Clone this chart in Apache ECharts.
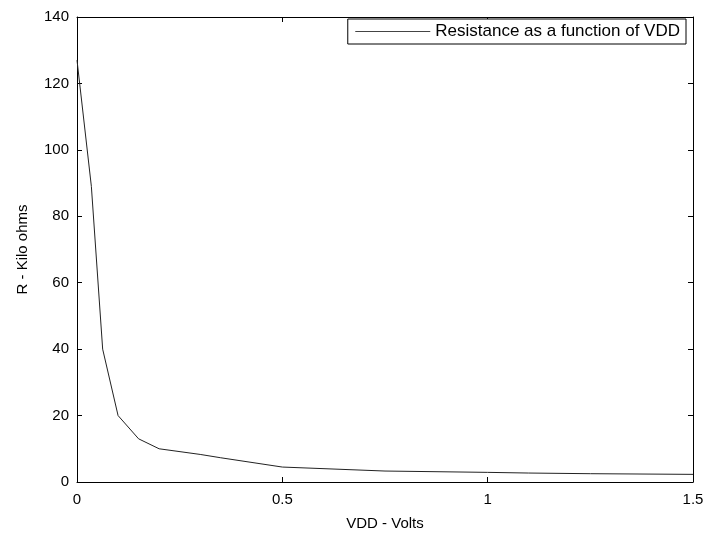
<!DOCTYPE html>
<html>
<head>
<meta charset="utf-8">
<script src="https://cdn.jsdelivr.net/npm/echarts@6/dist/echarts.min.js"></script>
<style>
html, body { margin: 0; padding: 0; background: #fff; }
#main { width: 710px; height: 539px; }
</style>
</head>
<body>
<div id="main"></div>
<script>
// 数据
const vdd = [0, 0.035, 0.0625, 0.1, 0.15, 0.2, 0.3, 0.35, 0.5, 0.75, 1.0, 1.1, 1.25, 1.5];
const resistance = [127, 89, 40, 20, 13, 10, 8.3, 7.3, 4.5, 3.3, 2.9, 2.7, 2.5, 2.3];
const seriesName = 'Resistance as a function of VDD';

const myChart = echarts.init(document.getElementById('main'));

const font = 'Liberation Sans, Arial, sans-serif';
const axisCommon = {
	axisLine: { show: true, onZero: false, lineStyle: { color: '#000', width: 1 } },
	axisTick: { show: true, inside: true, length: 5, lineStyle: { color: '#000' } },
	splitLine: { show: false }
};

option = {
	backgroundColor: '#fff',
	animation: false,
	grid: { left: 77, right: 17, top: 17, bottom: 57 },
	legend: {
		data: [seriesName],
		right: 24,
		top: 19,
		orient: 'horizontal',
		backgroundColor: '#fff',
		borderColor: '#000',
		borderWidth: 1,
		padding: [4, 6, 4, 7],
		itemWidth: 75,
		itemHeight: 14,
		itemGap: 8,
		itemStyle: { opacity: 0 }, // 只显示线，不显示圆点
		lineStyle: { color: '#444', width: 1 },
		textStyle: { color: '#000', fontSize: 17, fontFamily: font }
	},
	xAxis: [{
		type: 'value',
		min: 0,
		max: 1.5,
		interval: 0.5,
		name: 'VDD - Volts',
		nameLocation: 'middle',
		nameGap: 34,
		nameTextStyle: { color: '#000', fontSize: 15, fontFamily: font },
		axisLabel: { color: '#000', fontSize: 15, fontFamily: font, margin: 10 },
		...axisCommon
	}, {
		type: 'value',
		position: 'top',
		min: 0,
		max: 1.5,
		interval: 0.5,
		axisLabel: { show: false },
		...axisCommon
	}],
	yAxis: [{
		type: 'value',
		min: 0,
		max: 140,
		interval: 20,
		name: 'R - Kilo ohms',
		nameLocation: 'middle',
		nameGap: 47,
		nameTextStyle: { color: '#000', fontSize: 15, fontFamily: font },
		axisLabel: { color: '#000', fontSize: 15, fontFamily: font, margin: 8 },
		...axisCommon
	}, {
		type: 'value',
		position: 'right',
		min: 0,
		max: 140,
		interval: 20,
		axisLabel: { show: false },
		...axisCommon
	}],
	series: [{
		name: seriesName,
		type: 'line',
		data: vdd.map((v, i) => [v, resistance[i]]),
		symbol: 'none',
		itemStyle: { color: '#222' },
		lineStyle: { color: '#222', width: 1 }
	}]
};

myChart.setOption(option);
</script>
</body>
</html>
